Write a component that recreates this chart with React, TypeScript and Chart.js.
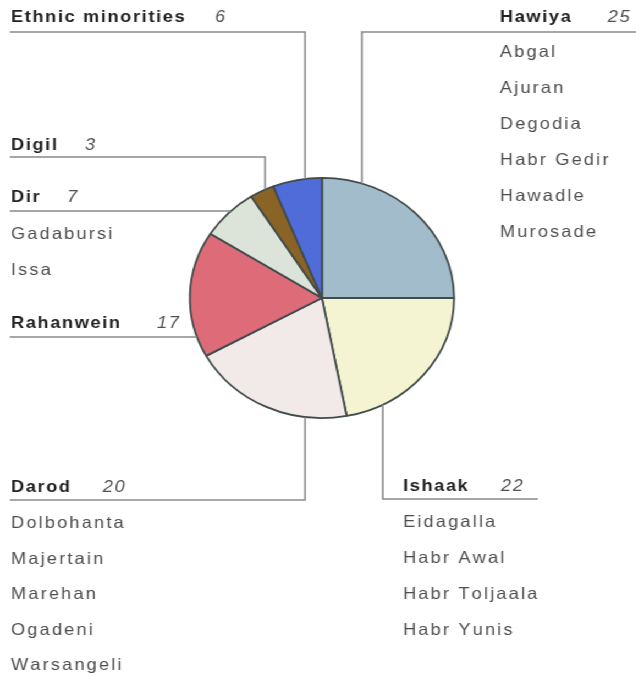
import React, { useEffect, useRef } from "react";
import { Chart, registerables } from "chart.js";

Chart.register(...registerables);

// ---- data ----
const groups = ["Hawiya", "Ishaak", "Darod", "Rahanwein", "Dir", "Digil", "Ethnic minorities"];
const shares = [25, 22, 20, 17, 7, 3, 6];
const sliceColors = ["#a2bccb", "#f5f4d2", "#f1eae9", "#dd6b78", "#dce4da", "#8a6326", "#4f6cd8"];
const hawiyaClans = ["Abgal", "Ajuran", "Degodia", "Habr Gedir", "Hawadle", "Murosade"];
const ishaakClans = ["Eidagalla", "Habr Awal", "Habr Toljaala", "Habr Yunis"];
const darodClans = ["Dolbohanta", "Majertain", "Marehan", "Ogadeni", "Warsangeli"];
const rahanweinClans: string[] = [];
const dirClans = ["Gadabursi", "Issa"];
const digilClans: string[] = [];
const minorityClans: string[] = [];
const clanLists = [hawiyaClans, ishaakClans, darodClans, rahanweinClans, dirClans, digilClans, minorityClans];

// ---- layout (unscaled canvas coordinates; the whole canvas is stretched 1.1x horizontally) ----
const SX = 1.1;
const W = 578;
const H = 676;
type Leader = "down" | "up" | "toPie";
interface Place {
  tx: number; ty: number; nx: number; ly: number; hx0: number; vx: number;
  leader: Leader; sub0: number; step: number;
}
// hx0: far end of the horizontal rule; vx: x of the vertical leader (or unused for "toPie")
const places: Place[] = [
  { tx: 454.5, ty: 22, nx: 552.5, ly: 32, hx0: 578, vx: 329, leader: "down", sub0: 57, step: 36 },
  { tx: 366.4, ty: 491, nx: 455.5, ly: 499, hx0: 489, vx: 348, leader: "up", sub0: 527, step: 36 },
  { tx: 10, ty: 492, nx: 93.6, ly: 500, hx0: 9, vx: 277.3, leader: "up", sub0: 528, step: 35.5 },
  { tx: 10, ty: 328, nx: 142.7, ly: 337, hx0: 9, vx: 0, leader: "toPie", sub0: 0, step: 36 },
  { tx: 10, ty: 202, nx: 61, ly: 211, hx0: 9, vx: 0, leader: "toPie", sub0: 239, step: 36 },
  { tx: 10, ty: 150, nx: 77.3, ly: 157, hx0: 9, vx: 241, leader: "down", sub0: 0, step: 36 },
  { tx: 10, ty: 22, nx: 195.5, ly: 32, hx0: 9, vx: 277.3, leader: "down", sub0: 0, step: 36 },
];

function spaced(ctx: CanvasRenderingContext2D, text: string, x: number, y: number, sp: number) {
  let cx = x;
  for (const ch of text) {
    ctx.fillText(ch, cx, y);
    cx += ctx.measureText(ch).width + sp;
  }
}

const labelPlugin = {
  id: "clanLabels",
  afterDraw(chart: any) {
    const ctx: CanvasRenderingContext2D = chart.ctx;
    const arc: any = chart.getDatasetMeta(0).data[0];
    if (!arc) return;
    const cx = arc.x, cy = arc.y, r = arc.outerRadius;
    ctx.save();
    ctx.strokeStyle = "#8a8a8a";
    ctx.lineWidth = 1.6;
    ctx.textBaseline = "alphabetic";
    ctx.textAlign = "left";
    groups.forEach((g, i) => {
      const p = places[i];
      ctx.beginPath();
      if (p.leader === "toPie") {
        const dy = p.ly - cy;
        const xEdge = cx - Math.sqrt(Math.max(r * r - dy * dy, 0));
        ctx.moveTo(p.hx0, p.ly);
        ctx.lineTo(xEdge, p.ly);
      } else {
        const dx = p.vx - cx;
        const h = Math.sqrt(Math.max(r * r - dx * dx, 0));
        const yEdge = p.leader === "down" ? cy - h : cy + h;
        ctx.moveTo(p.hx0, p.ly);
        ctx.lineTo(p.vx, p.ly);
        ctx.lineTo(p.vx, yEdge);
      }
      ctx.stroke();
      ctx.fillStyle = "#222222";
      ctx.font = "bold 16.5px 'Liberation Sans', Arial, sans-serif";
      spaced(ctx, g, p.tx, p.ty, 1.5);
      ctx.fillStyle = "#505050";
      ctx.font = "italic 16.5px 'Liberation Sans', Arial, sans-serif";
      spaced(ctx, String(shares[i]), p.nx, p.ty, 1.5);
      ctx.fillStyle = "#4e4e4e";
      ctx.font = "16.5px 'Liberation Sans', Arial, sans-serif";
      clanLists[i].forEach((c, k) => {
        spaced(ctx, c, p.tx, p.sub0 + k * p.step, 2);
      });
    });
    ctx.restore();
  },
};

export default function App() {
  const ref = useRef<HTMLCanvasElement | null>(null);
  useEffect(() => {
    document.body.style.margin = "0";
    const canvas = ref.current;
    if (!canvas) return;
    const chart = new Chart(canvas, {
      type: "pie",
      data: {
        labels: groups,
        datasets: [
          {
            data: shares,
            backgroundColor: sliceColors,
            borderColor: "#414b4b",
            borderWidth: 1.8,
          },
        ],
      },
      options: {
        animation: false,
        responsive: true,
        maintainAspectRatio: false,
        events: [],
        layout: { padding: { left: 171.7, right: 164.3, top: 177, bottom: 257 } },
        plugins: { legend: { display: false }, tooltip: { enabled: false } },
      },
      plugins: [labelPlugin],
    });
    return () => chart.destroy();
  }, []);
  return (
    <div
      style={{
        position: "absolute",
        left: 0,
        top: 0,
        width: W,
        height: H,
        transform: `scaleX(${SX})`,
        transformOrigin: "0 0",
        background: "#fff",
      }}
    >
      <canvas ref={ref} />
    </div>
  );
}
